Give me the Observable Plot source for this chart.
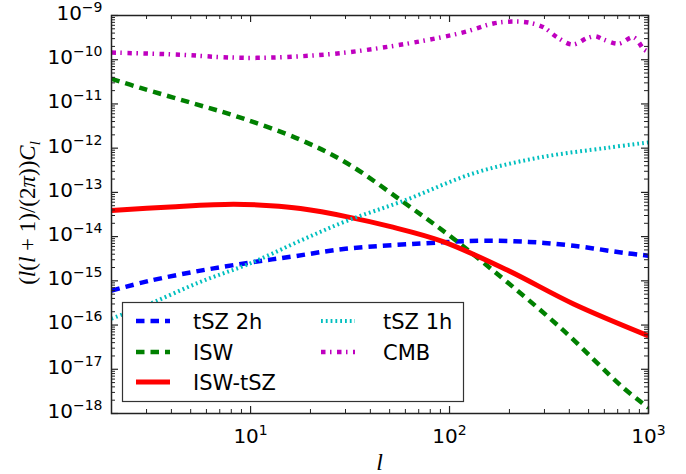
<!DOCTYPE html>
<html><head><meta charset="utf-8">
<script src="https://cdn.jsdelivr.net/npm/d3@7"></script>
<script src="https://cdn.jsdelivr.net/npm/@observablehq/plot@0.6"></script>
<style>
html,body{margin:0;padding:0;background:#fff;}
#chart{width:686px;height:474px;}
</style></head><body><div id="chart"></div>
<script>
// ---- data ----
const tsz2hL = [2, 3.1, 5.6, 10, 16.6, 30, 90, 148, 250, 420, 750, 1000];
const tsz2hV = [6e-16, 1e-15, 1.7e-15, 2.6e-15, 3.6e-15, 5.3e-15, 7.4e-15, 8.1e-15, 7.6e-15, 6.2e-15, 4.3e-15, 3.7e-15];

const iswL = [2, 2.8, 5, 8.9, 17.8, 30.7, 59, 100, 166, 361, 748, 1000];
const iswV = [3.7e-11, 2.3e-11, 1.07e-11, 4.9e-12, 1.55e-12, 4.5e-13, 5.9e-14, 1.05e-14, 1.7e-15, 8.7e-17, 3.8e-18, 1.35e-18];

const crossL = [2, 3.95, 8.2, 12.6, 17.8, 30.7, 50, 92, 195, 420, 1000];
const crossV = [3.9e-14, 4.7e-14, 5.4e-14, 5.0e-14, 4.3e-14, 2.8e-14, 1.7e-14, 7.8e-15, 1.75e-15, 3e-16, 5.7e-17];

const tsz1hL = [2, 3.1, 5.6, 10, 17.8, 30.7, 59, 132, 286, 621, 1000];
const tsz1hV = [1.4e-16, 3e-16, 9.5e-16, 2.5e-15, 8.1e-15, 2.3e-14, 6.5e-14, 2.7e-13, 6.2e-13, 1.02e-12, 1.35e-12];

const cmbL = [2, 4.4, 7, 10, 15, 28, 61, 116, 166, 207, 250, 297, 348, 415, 493, 541, 590, 708, 840, 950, 1000];
const cmbV = [1.45e-10, 1.3e-10, 1.15e-10, 1.1e-10, 1.15e-10, 1.4e-10, 2.3e-10, 4.1e-10, 6.6e-10, 7.3e-10, 6.9e-10, 5.4e-10, 3.2e-10, 2.2e-10, 3.1e-10, 3.4e-10, 2.9e-10, 2.3e-10, 3.2e-10, 1.7e-10, 1.5e-10];

const seriesNames = ["tSZ 2h", "ISW", "ISW-tSZ", "tSZ 1h", "CMB"];

const xTickVals = [10, 100, 1000];
const xTickLabels = ["10^1", "10^2", "10^3"];
const yTickVals = [1e-18, 1e-17, 1e-16, 1e-15, 1e-14, 1e-13, 1e-12, 1e-11, 1e-10, 1e-9];
const yTickLabels = ["10^-18", "10^-17", "10^-16", "10^-15", "10^-14", "10^-13", "10^-12", "10^-11", "10^-10", "10^-9"];

// ---- build tables ----
const toRows = (L, V) => L.map((l, i) => ({l, v: V[i]}));
const tsz2h = toRows(tsz2hL, tsz2hV);
const isw = toRows(iswL, iswV);
const cross = toRows(crossL, crossV);
const tsz1h = toRows(tsz1hL, tsz1hV);
const cmb = toRows(cmbL, cmbV);

const styles = [
  {stroke: "#0000ff", strokeWidth: 4.5, strokeDasharray: "8.5,6"},
  {stroke: "#008000", strokeWidth: 4.5, strokeDasharray: "8.5,6"},
  {stroke: "#ff0000", strokeWidth: 5, strokeDasharray: null},
  {stroke: "#00bfbf", strokeWidth: 4, strokeDasharray: "1.8,3"},
  {stroke: "#bf00bf", strokeWidth: 4.5, strokeDasharray: "4.5,4.5,1.5,5.5"}
];

// minor tick positions
const xMajor = [10, 100, 1000];
const xMinor = [];
for (const dec of [1, 10, 100]) for (let k = 2; k <= 9; k++) if (k * dec >= 2) xMinor.push(k * dec);
const yMinor = [];
for (let e = -18; e < -9; e++) for (let k = 2; k <= 9; k++) yMinor.push(k * Math.pow(10, e));

const W = 686, H = 474, ML = 111, MR = 38, MT = 15, MB = 61;
const PW = W - ML - MR, PH = H - MT - MB;
const tickC = "#222";

const lineMark = (data, s) => Plot.line(data, {x: "l", y: "v", curve: "catmull-rom", clip: true,
  stroke: s.stroke, strokeWidth: s.strokeWidth, strokeDasharray: s.strokeDasharray || undefined,
  strokeLinecap: "butt", strokeLinejoin: "round"});

const svg = Plot.plot({
  width: W, height: H,
  marginLeft: ML, marginRight: MR, marginTop: MT, marginBottom: MB,
  x: {type: "log", domain: [2, 1000]},
  y: {type: "log", domain: [1e-18, 1e-9]},
  style: {fontFamily: "DejaVu Sans", fontSize: "20px", color: "black", background: "white", overflow: "visible"},
  marks: [
    lineMark(tsz2h, styles[0]),
    lineMark(isw, styles[1]),
    lineMark(cross, styles[2]),
    lineMark(tsz1h, styles[3]),
    lineMark(cmb, styles[4]),
    // inward ticks, all four sides
    Plot.tickX(xMajor, {x: d => d, insetTop: PH - 7, stroke: tickC, strokeWidth: 1.2}),
    Plot.tickX(xMajor, {x: d => d, insetBottom: PH - 7, stroke: tickC, strokeWidth: 1.2}),
    Plot.tickX(xMinor, {x: d => d, insetTop: PH - 4, stroke: tickC, strokeWidth: 1}),
    Plot.tickX(xMinor, {x: d => d, insetBottom: PH - 4, stroke: tickC, strokeWidth: 1}),
    Plot.tickY(yTickVals, {y: d => d, insetRight: PW - 7, stroke: tickC, strokeWidth: 1.2}),
    Plot.tickY(yTickVals, {y: d => d, insetLeft: PW - 7, stroke: tickC, strokeWidth: 1.2}),
    Plot.tickY(yMinor, {y: d => d, insetRight: PW - 4, stroke: tickC, strokeWidth: 1}),
    Plot.tickY(yMinor, {y: d => d, insetLeft: PW - 4, stroke: tickC, strokeWidth: 1}),
    Plot.axisX(xTickVals, {tickSize: 0, tickPadding: 15, fontSize: 20, label: null,
      tickFormat: d => xTickLabels[xTickVals.indexOf(d)]}),
    Plot.axisY(yTickVals, {tickSize: 0, tickPadding: 9, fontSize: 20, label: null, dy: -2,
      tickFormat: d => yTickLabels[yTickVals.findIndex(t => Math.abs(t - d) / t < 1e-6)]}),
    Plot.frame({stroke: "#222", strokeWidth: 1.5})
  ]
});

// superscripts for tick labels
d3.select(svg).selectAll("text").each(function() {
  const t = this.textContent;
  if (!t.includes("^")) return;
  const [base, exp] = t.split("^");
  const sel = d3.select(this);
  sel.text(null);
  sel.append("tspan").text(base);
  sel.append("tspan").attr("dy", -8).attr("font-size", 14).text(exp.replace("-", "\u2212"));
});

const root = d3.select(svg);
// axis titles
const yl = root.append("text")
  .attr("transform", "translate(35,213) rotate(-90)")
  .attr("text-anchor", "middle")
  .attr("font-family", "Liberation Serif").attr("font-size", 23).attr("fill", "black");
const parts = [["(", false], ["l", true], ["(", false], ["l", true], [" + 1)/(2", false], ["\u03c0", true], ["))", false], ["C", true]];
for (const [s, it] of parts) yl.append("tspan").attr("font-style", it ? "italic" : "normal").text(s);
yl.append("tspan").attr("font-style", "italic").attr("font-size", 15).attr("dy", 5).text("l");

root.append("text").attr("x", ML + PW / 2).attr("y", 470).attr("text-anchor", "middle")
  .attr("font-family", "Liberation Serif").attr("font-style", "italic").attr("font-size", 24).attr("fill", "black").text("l");

// legend
const lg = root.append("g");
lg.append("rect").attr("x", 122.5).attr("y", 302.5).attr("width", 341).attr("height", 99)
  .attr("fill", "white").attr("stroke", "#333").attr("stroke-width", 1.2);
const legPos = [[136, 193, 321], [136, 193, 352], [136, 193, 382], [321, 383, 321], [321, 383, 352]];
seriesNames.forEach((name, i) => {
  const [sx, tx, cy] = legPos[i];
  const s = styles[i];
  lg.append("line").attr("x1", sx).attr("x2", sx + 34).attr("y1", cy).attr("y2", cy)
    .attr("stroke", s.stroke).attr("stroke-width", s.strokeWidth)
    .attr("stroke-dasharray", s.strokeDasharray || null);
  lg.append("text").attr("x", tx).attr("y", cy + 7.5).attr("text-anchor", "start")
    .attr("font-family", "DejaVu Sans")
    .attr("font-size", 21).attr("fill", "black").text(name);
});

document.getElementById("chart").appendChild(svg);
</script></body></html>
